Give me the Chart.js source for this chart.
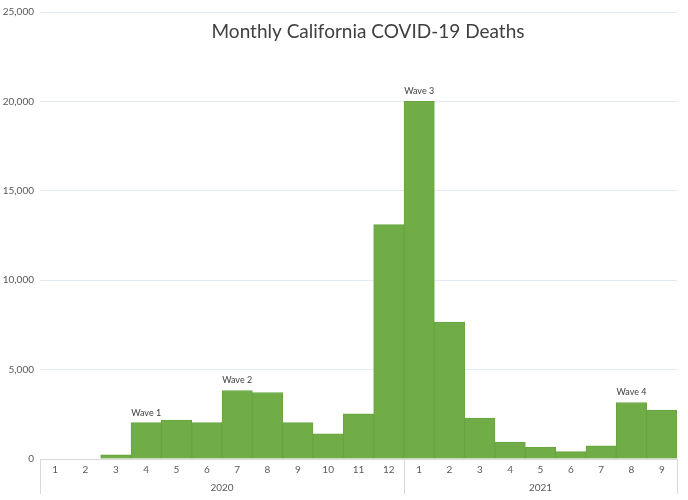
<!DOCTYPE html>
<html>
<head>
<meta charset="utf-8">
<script src="https://cdn.jsdelivr.net/npm/chart.js@4.4.0/dist/chart.umd.min.js"></script>
<style>
  html, body { margin: 0; padding: 0; background: #fff; }
  canvas { display: block; }
</style>
</head>
<body>
<canvas id="deaths-chart" width="688" height="500"></canvas>
<script>
// Chart data
const months = ['1', '2', '3', '4', '5', '6', '7', '8', '9', '10', '11', '12',
                '1', '2', '3', '4', '5', '6', '7', '8', '9'];
const years = ['2020', '2021'];
const yearSizes = [12, 9];
const deaths = [0, 0, 230, 2030, 2180, 2030, 3830, 3720, 2030, 1410, 2530, 13110,
                20000, 7660, 2290, 950, 650, 410, 740, 3160, 2730];
const waveLabels = ['', '', '', 'Wave 1', '', '', 'Wave 2', '', '', '', '', '',
                    'Wave 3', '', '', '', '', '', '', 'Wave 4', ''];
const yTicks = [0, 5000, 10000, 15000, 20000, 25000];

const FONT = 'Lato, "Open Sans", sans-serif';

// Title, wave labels and the year level of the axis
const extrasPlugin = {
    id: 'extras',
    afterDraw(chart) {
        const ctx = chart.ctx;
        const x = chart.scales.x;
        const area = chart.chartArea;
        const meta = chart.getDatasetMeta(0);
        ctx.save();

        ctx.fillStyle = '#404040';
        ctx.font = '19px ' + FONT;
        ctx.textAlign = 'center';
        ctx.textBaseline = 'middle';
        ctx.fillText('Monthly California COVID-19 Deaths', 368, 32);

        ctx.font = '9px ' + FONT;
        waveLabels.forEach((lbl, i) => {
            if (!lbl) return;
            const bar = meta.data[i];
            ctx.fillText(lbl, bar.x, bar.y - 10);
        });

        const half = (x.getPixelForValue(1) - x.getPixelForValue(0)) / 2;
        ctx.strokeStyle = '#d9d9d9';
        ctx.lineWidth = 1;
        ctx.fillStyle = '#595959';
        ctx.font = '10px ' + FONT;
        let start = 0;
        const drawSep = (px) => {
            ctx.beginPath();
            ctx.moveTo(Math.round(px) + 0.5, area.bottom);
            ctx.lineTo(Math.round(px) + 0.5, area.bottom + 35);
            ctx.stroke();
        };
        drawSep(x.getPixelForValue(0) - half);
        years.forEach((yr, g) => {
            const end = start + yearSizes[g] - 1;
            const left = x.getPixelForValue(start) - half;
            const right = x.getPixelForValue(end) + half;
            ctx.fillText(yr, (left + right) / 2, area.bottom + 29);
            drawSep(right);
            start = end + 1;
        });
        ctx.restore();
    }
};

new Chart(document.getElementById('deaths-chart'), {
    type: 'bar',
    data: {
        labels: months,
        datasets: [{
            data: deaths,
            backgroundColor: '#70ad47',
            borderColor: '#68a540',
            borderWidth: 1,
            barPercentage: 1,
            categoryPercentage: 1
        }]
    },
    options: {
        responsive: false,
        animation: false,
        layout: { padding: { top: 5, right: 11, bottom: 0, left: 0 } },
        plugins: {
            legend: { display: false },
            tooltip: { enabled: false }
        },
        scales: {
            x: {
                grid: { display: false, drawTicks: false },
                border: { display: true, color: '#d9d9d9' },
                ticks: { color: '#595959', font: { size: 10, family: FONT }, padding: 5,
                         maxRotation: 0, autoSkip: false },
                afterFit(scale) { scale.height = 41; }
            },
            y: {
                min: 0,
                max: 25000,
                afterBuildTicks(scale) { scale.ticks = yTicks.map(v => ({ value: v })); },
                grid: { color: '#e3e9f3', drawTicks: false },
                border: { display: false },
                ticks: {
                    color: '#595959',
                    font: { size: 10, family: FONT },
                    padding: 6,
                    callback: v => v.toLocaleString('en-US')
                },
                afterFit(scale) { scale.width = 40; }
            }
        }
    },
    plugins: [extrasPlugin]
});
</script>
</body>
</html>
